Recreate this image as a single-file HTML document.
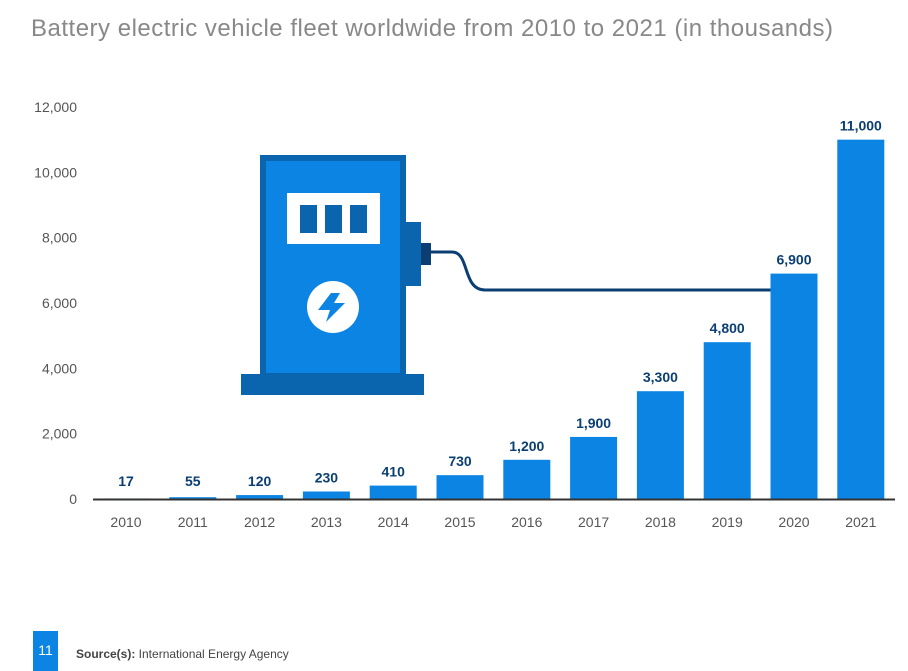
<!DOCTYPE html>
<html><head><meta charset="utf-8"><style>
body{margin:0;background:#fff;font-family:"Liberation Sans",sans-serif;}
#wrap{position:relative;width:908px;height:671px;overflow:hidden;}
</style></head><body>
<div id="wrap">
<svg width="908" height="671" id="svg">
<text x="31" y="36" font-size="24" fill="#888" textLength="802" lengthAdjust="spacing">Battery electric vehicle fleet worldwide from 2010 to 2021 (in thousands)</text>
<g id="axes"></g>
<g>
<path d="M431,252 H452 C470,252 462,290 485,290 H775" fill="none" stroke="#0b3f73" stroke-width="3"/>
<rect x="260" y="155" width="146" height="222" fill="#0a64ae"/>
<rect x="266" y="161" width="134" height="212" fill="#0b84e3"/>
<rect x="287" y="193" width="93" height="51" fill="#fff"/>
<rect x="300" y="205" width="17" height="28" fill="#0a64ae"/>
<rect x="325" y="205" width="17" height="28" fill="#0a64ae"/>
<rect x="350" y="205" width="17" height="28" fill="#0a64ae"/>
<rect x="405" y="222" width="16" height="64" fill="#0a64ae"/>
<rect x="421" y="243" width="10" height="22" fill="#0b3f73"/>
<rect x="241" y="374" width="183" height="21" fill="#0a64ae"/>
<circle cx="333" cy="307" r="26" fill="#fff"/>
<path d="M331,293 L318,310 H330 L326,322 L345,303 H334 L340,293 Z" fill="#0b84e3"/>
</g>
<g id="bars"></g>
<line x1="93" y1="499.5" x2="895" y2="499.5" stroke="#333" stroke-width="2"/>
<rect x="33" y="631" width="25" height="40" fill="#0b84e3"/>
<text x="45.5" y="655" font-size="14" fill="#fff" text-anchor="middle">11</text>
<text x="76" y="658" font-size="12" fill="#444"><tspan font-weight="bold">Source(s):</tspan> International Energy Agency</text>
</svg>
</div>
<script>
const categories=["2010","2011","2012","2013","2014","2015","2016","2017","2018","2019","2020","2021"];
const values=[17,55,120,230,410,730,1200,1900,3300,4800,6900,11000];
const valueLabels=["17","55","120","230","410","730","1,200","1,900","3,300","4,800","6,900","11,000"];
const yTicks=[0,2000,4000,6000,8000,10000,12000];
const yTickLabels=["0","2,000","4,000","6,000","8,000","10,000","12,000"];
const NS="http://www.w3.org/2000/svg";
const y0=499,yTop=107,yMax=12000;
const y=v=>y0-(v/yMax)*(y0-yTop);
const x0=126,step=66.8,bw=47;
const x=i=>x0+i*step;
function mk(tag,attrs,parent,text){const e=document.createElementNS(NS,tag);for(const k in attrs)e.setAttribute(k,attrs[k]);if(text!==undefined)e.textContent=text;parent.appendChild(e);return e;}
const axes=document.getElementById('axes'),bars=document.getElementById('bars');
yTicks.forEach((t,i)=>{
 const e=mk('text',{x:77,y:y(t)+5,'font-size':14,fill:'#555','text-anchor':'end'},axes,yTickLabels[i]);
 
 
});
categories.forEach((c,i)=>{
 const h=y0-y(values[i]);
 const r=mk('rect',{x:x(i)-bw/2,y:y(values[i]),width:bw,height:Math.max(h,1),fill:'#0b84e3'},bars);
 
 
 const l=mk('text',{x:x(i),y:Math.min(y(values[i]),y0-4)-9,'font-size':14,'font-weight':'bold',fill:'#0b3f73','text-anchor':'middle'},bars,valueLabels[i]);
 
 
 const t=mk('text',{x:x(i),y:527,'font-size':14,fill:'#555','text-anchor':'middle'},axes,c);
 
 
});
</script>
</body></html>
